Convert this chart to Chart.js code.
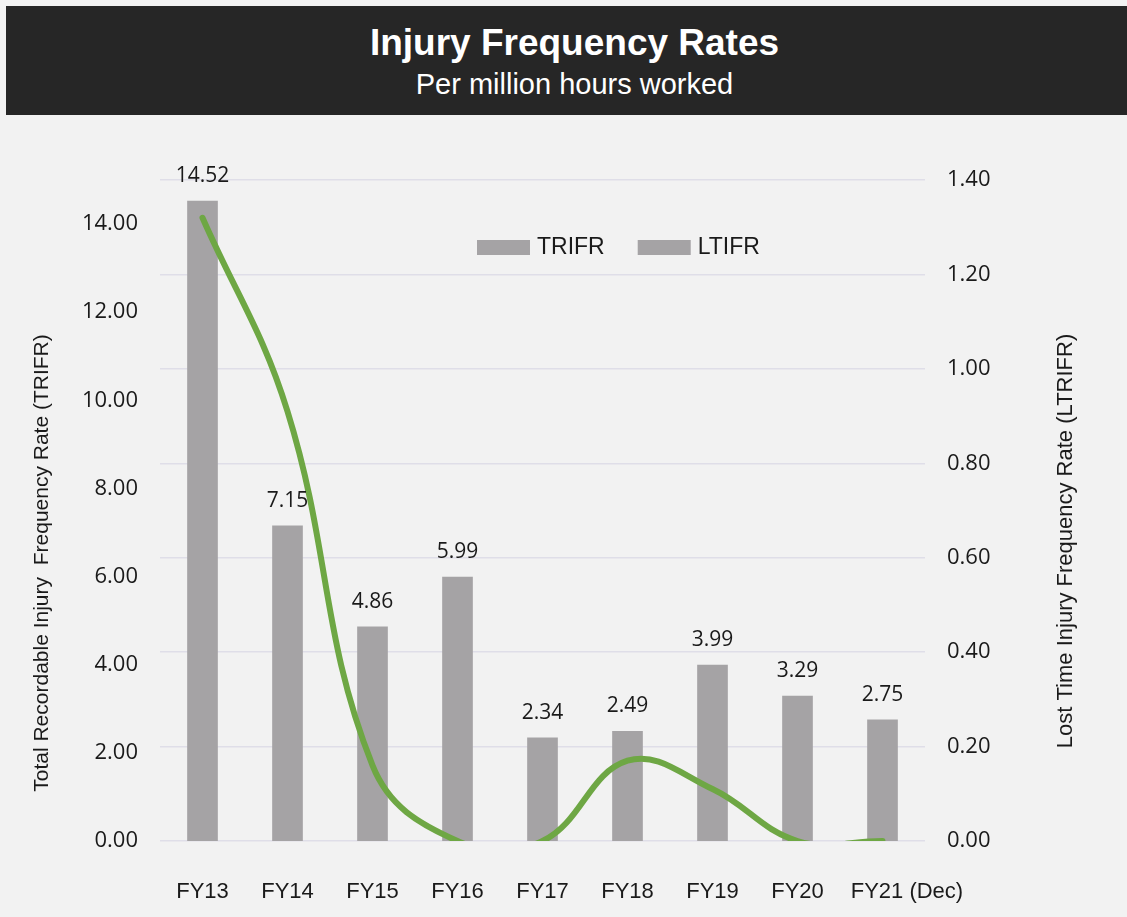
<!DOCTYPE html>
<html>
<head>
<meta charset="utf-8">
<title>Injury Frequency Rates</title>
<script src="https://cdn.jsdelivr.net/npm/chart.js@4.4.1/dist/chart.umd.min.js"></script>
<style>
    html, body {
        margin: 0;
        padding: 0;
        width: 1127px;
        height: 917px;
        overflow: hidden;
        background: #f2f2f2;
    }
    .header {
        position: absolute;
        left: 6px;
        top: 6px;
        width: 1121px;
        height: 109px;
        background: #262626;
        color: #fff;
        text-align: center;
        font-family: "Liberation Sans", Arial, sans-serif;
    }
    .header h1 {
        position: absolute;
        top: 18px;
        left: 16px;
        right: 0;
        margin: 0;
        font-size: 37px;
        line-height: 1;
        font-weight: bold;
    }
    .header p {
        position: absolute;
        top: 64px;
        left: 16px;
        right: 0;
        margin: 0;
        font-size: 29px;
        line-height: 1;
    }
    .chart-box {
        position: absolute;
        left: 0;
        top: 115px;
        width: 1127px;
        height: 802px;
    }
</style>
</head>
<body>
<div class="header">
    <h1>Injury Frequency Rates</h1>
    <p>Per million hours worked</p>
</div>
<div class="chart-box"><canvas id="injury-chart"></canvas></div>

<script>
// Données
const categories = ['FY13', 'FY14', 'FY15', 'FY16', 'FY17', 'FY18', 'FY19', 'FY20', 'FY21 (Dec)'];
const trifrValues = [14.52, 7.15, 4.86, 5.99, 2.34, 2.49, 3.99, 3.29, 2.75];
const ltifrValues = [1.32, 0.91, 0.16, 0, 0, 0.17, 0.11, 0, 0];
const trifrTicks = [0, 2, 4, 6, 8, 10, 12, 14];
const ltifrTicks = [0, 0.2, 0.4, 0.6, 0.8, 1.0, 1.2, 1.4];

const BAR_COLOR = '#a5a3a5';
const LINE_COLOR = '#6ea744';
const TEXT_COLOR = '#1a1a1a';
const GRID_COLOR = '#dfdee8';

/**
 * Étiquettes des barres, légende et titres d'axes
 */
const overlayPlugin = {
    id: 'overlay',
    afterDraw(chart) {
        const ctx = chart.ctx;
        const area = chart.chartArea;
        ctx.save();

        // Valeurs au-dessus des barres
        const bars = chart.getDatasetMeta(0).data;
        ctx.font = '21px "Open Sans", sans-serif';
        ctx.fillStyle = TEXT_COLOR;
        ctx.textAlign = 'center';
        ctx.textBaseline = 'middle';
        bars.forEach((bar, i) => {
            ctx.fillText(trifrValues[i].toFixed(2), bar.x, bar.y - 25);
        });

        // Légende (les deux pastilles sont grises, comme sur l'original)
        ctx.font = '23px "Liberation Sans", Arial, sans-serif';
        ctx.textAlign = 'left';
        let x = 477;
        const y = area.top + 67;
        chart.data.datasets.forEach(ds => {
            ctx.fillStyle = BAR_COLOR;
            ctx.fillRect(x, y - 7, 53, 15);
            ctx.fillStyle = TEXT_COLOR;
            ctx.fillText(ds.label, x + 60, y + 1);
            x += 60 + ctx.measureText(ds.label).width + 33;
        });

        // Titres des axes
        ctx.textAlign = 'center';
        ctx.font = '21px "Liberation Sans", Arial, sans-serif';
        ctx.translate(42, 448);
        ctx.rotate(-Math.PI / 2);
        ctx.fillText('Total Recordable Injury  Frequency Rate (TRIFR)', 0, 0);
        ctx.setTransform(1, 0, 0, 1, 0, 0);
        ctx.font = '22px "Liberation Sans", Arial, sans-serif';
        ctx.translate(1066, 426);
        ctx.rotate(-Math.PI / 2);
        ctx.fillText('Lost Time Injury Frequency Rate (LTRIFR)', 0, 0);

        ctx.restore();
    }
};

const tickFont = { family: '"Open Sans", sans-serif', size: 22 };

new Chart(document.getElementById('injury-chart'), {
    data: {
        labels: categories,
        datasets: [
            {
                type: 'bar',
                label: 'TRIFR',
                data: trifrValues,
                yAxisID: 'y',
                backgroundColor: BAR_COLOR,
                barThickness: 30,
                order: 1
            },
            {
                type: 'line',
                label: 'LTIFR',
                data: ltifrValues,
                yAxisID: 'y1',
                borderColor: LINE_COLOR,
                borderWidth: 6,
                tension: 0.4,
                capBezierPoints: false,
                pointRadius: 0,
                borderCapStyle: 'round',
                order: 0
            }
        ]
    },
    options: {
        responsive: true,
        maintainAspectRatio: false,
        animation: false,
        layout: { padding: { top: 65, left: 0, right: 0, bottom: 0 } },
        plugins: {
            legend: { display: false },
            tooltip: { enabled: false }
        },
        scales: {
            x: {
                grid: { display: false, drawTicks: false },
                border: { display: false },
                ticks: {
                    color: TEXT_COLOR,
                    padding: 38,
                    maxRotation: 0,
                    autoSkip: false,
                    font: { family: '"Liberation Sans", Arial, sans-serif', size: 22 },
                    // le dernier libellé est décalé vers la droite sur l'original
                    callback: function(value, index) {
                        const label = this.getLabelForValue(value);
                        return index === categories.length - 1 ? '        ' + label : label;
                    }
                },
                afterFit(scale) { scale.height = 76; }
            },
            y: {
                position: 'left',
                min: 0,
                max: 15,
                grid: { display: false, drawTicks: false },
                border: { display: false },
                ticks: {
                    color: TEXT_COLOR,
                    padding: 22,
                    font: tickFont,
                    callback: value => Number(value).toFixed(2)
                },
                afterBuildTicks(scale) { scale.ticks = trifrTicks.map(v => ({ value: v })); },
                afterFit(scale) { scale.width = 160; }
            },
            y1: {
                position: 'right',
                min: 0,
                max: 1.4,
                grid: { color: GRID_COLOR, lineWidth: 1.5, drawTicks: false },
                border: { display: false },
                ticks: {
                    color: TEXT_COLOR,
                    padding: 22,
                    font: tickFont,
                    callback: value => Number(value).toFixed(2)
                },
                afterBuildTicks(scale) { scale.ticks = ltifrTicks.map(v => ({ value: v })); },
                afterFit(scale) { scale.width = 202; }
            }
        }
    },
    plugins: [overlayPlugin]
});
</script>
</body>
</html>
